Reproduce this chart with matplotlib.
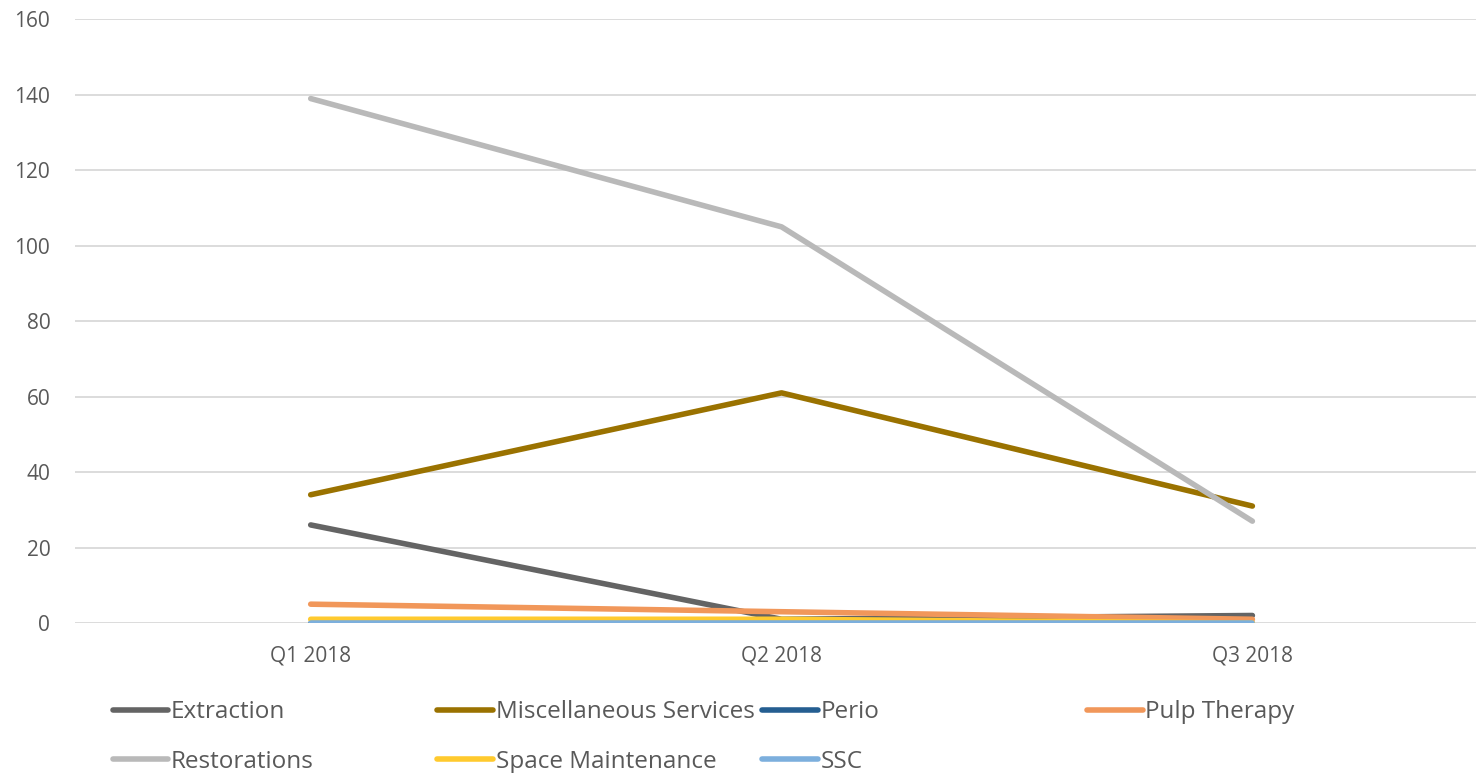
import matplotlib.pyplot as plt
from matplotlib.lines import Line2D

plt.rcParams['font.family'] = ['Open Sans', 'DejaVu Sans']

# Data
quarters = ['Q1 2018', 'Q2 2018', 'Q3 2018']
extraction = [26, 1, 2]
misc_services = [34, 61, 31]
perio = [0, 0, 0]
pulp_therapy = [5, 3, 1]
restorations = [139, 105, 27]
space_maint = [1, 1, 0]
ssc = [0, 0, 0]

series = [
    ('Extraction', extraction, '#646464'),
    ('Miscellaneous Services', misc_services, '#9A7200'),
    ('Perio', perio, '#255E91'),
    ('Pulp Therapy', pulp_therapy, '#F1975A'),
    ('Restorations', restorations, '#B9B9B9'),
    ('Space Maintenance', space_maint, '#FFCA2E'),
    ('SSC', ssc, '#7CAFDD'),
]

fig = plt.figure(figsize=(14.76, 7.73), dpi=100)
ax = fig.add_axes([0.051, 0.194, 0.957, 0.781])

x = range(len(quarters))
for name, vals, col in series:
    ax.plot(x, vals, color=col, lw=4, solid_capstyle='round', label=name)

ax.set_xlim(-0.5, 2.5)
ax.set_ylim(0, 160)
ax.set_yticks(range(0, 161, 20))
ax.set_xticks(list(x))
ax.set_xticklabels(quarters)
ax.grid(axis='y', color='#D9D9D9', lw=1.3)
ax.set_axisbelow(True)
for s in ax.spines.values():
    s.set_visible(False)
ax.tick_params(axis='both', length=0, labelsize=15, colors='#595959')
ax.tick_params(axis='y', pad=18)
ax.tick_params(axis='x', pad=16)

# legend laid out in four equal columns, two rows
cols_x = [0.068, 0.288, 0.508, 0.728]
groups = [[0, 4], [1, 5], [2, 6], [3]]
for cx, grp in zip(cols_x, groups):
    handles = [Line2D([], [], color=series[i][2], lw=4, solid_capstyle='round') for i in grp]
    labels = [series[i][0] for i in grp]
    fig.legend(handles, labels, loc='upper left', bbox_to_anchor=(cx, 0.11),
               frameon=False, fontsize=17.5, handlelength=2.3, handletextpad=0.1,
               labelspacing=1.05, borderpad=0, labelcolor='#595959')

fig.savefig('out.png', dpi=100, facecolor='white')
